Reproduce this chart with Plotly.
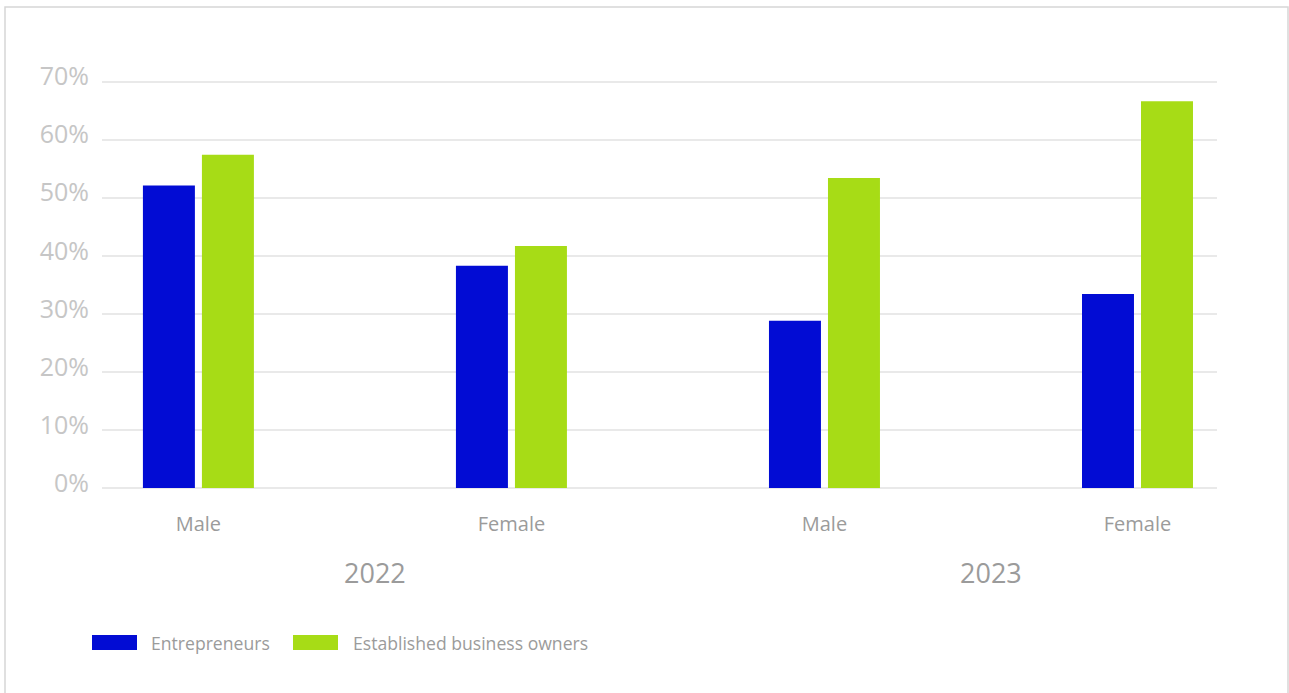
import plotly.graph_objects as go

# ---- data -------------------------------------------------------------
categories = ["Male", "Female", "Male ", "Female "]
years = ["2022", "2023"]
entrepreneurs = [52.1, 38.3, 28.8, 33.4]
established = [57.4, 41.7, 53.4, 66.6]
series_names = ["Entrepreneurs", "Established business owners"]
y_ticks = [0, 10, 20, 30, 40, 50, 60, 70]
y_tick_labels = [f"{v}%" for v in y_ticks]

# ---- styling ----------------------------------------------------------
BLUE = "#020cd4"
GREEN = "#a7dc16"
GRID = "#e9e9e9"
FONT = "'Open Sans', 'Noto Sans', sans-serif"

W, H = 1289, 693
M_L, M_R, M_T, M_B = 102, 72, 70, 205
PLOT_W = W - M_L - M_R
PLOT_H = H - M_T - M_B


def px_x(px):
    """Page x pixel -> paper coordinate."""
    return (px - M_L) / PLOT_W


def px_y(py):
    """Page y pixel (from top) -> paper coordinate."""
    return (H - M_B - py) / PLOT_H


fig = go.Figure()
fig.add_bar(x=categories, y=entrepreneurs, name=series_names[0],
            marker=dict(color=BLUE, line=dict(width=0)), showlegend=False)
fig.add_bar(x=categories, y=established, name=series_names[1],
            marker=dict(color=GREEN, line=dict(width=0)), showlegend=False)

# outer frame of the card
shapes = [dict(type="rect", xref="paper", yref="paper",
               x0=px_x(5), x1=px_x(1288), y0=px_y(720), y1=px_y(7),
               line=dict(color="#d6d6d6", width=1.5), fillcolor="rgba(0,0,0,0)",
               layer="below")]

annotations = []
# year labels under each pair of categories
for i, (yr, shift) in enumerate(zip(years, [20, 10])):
    annotations.append(dict(text=yr, xref="x", yref="paper",
                            x=0.5 + 2 * i, y=px_y(572), xshift=shift,
                            showarrow=False, yanchor="middle", xanchor="center",
                            font=dict(family=FONT, size=27, color="#9b9b9b")))

# custom legend with wide swatches
legend_items = [(series_names[0], BLUE, 92, 137, 149),
                (series_names[1], GREEN, 293, 338, 351)]
for name, col, x0, x1, tx in legend_items:
    shapes.append(dict(type="rect", xref="paper", yref="paper",
                       x0=px_x(x0), x1=px_x(x1), y0=px_y(650), y1=px_y(635),
                       fillcolor=col, line=dict(width=0)))
    annotations.append(dict(text=name, xref="paper", yref="paper",
                            x=px_x(tx), y=px_y(642.5), showarrow=False,
                            xanchor="left", yanchor="middle",
                            font=dict(family=FONT, size=17.6, color="#9b9b9b")))

fig.update_layout(
    width=W, height=H,
    margin=dict(l=M_L, r=M_R, t=M_T, b=M_B),
    paper_bgcolor="white", plot_bgcolor="white",
    barmode="group", bargap=0.623, bargroupgap=0.119,
    font=dict(family=FONT),
    shapes=shapes, annotations=annotations,
    xaxis=dict(type="category", range=[-0.308, 3.254],
               showgrid=False, zeroline=False, showline=False,
               ticks="", ticklabelstandoff=22,
               tickfont=dict(family=FONT, size=20, color="#9b9b9b"),
               tickvals=categories, ticktext=[c.strip() for c in categories]),
    yaxis=dict(range=[0, 72], tickvals=y_ticks, ticktext=y_tick_labels,
               showgrid=True, gridcolor=GRID, gridwidth=2,
               zeroline=True, zerolinecolor=GRID, zerolinewidth=2,
               showline=False, ticks="", ticklabelstandoff=12,
               ticklabelshift=-5,
               tickfont=dict(family=FONT, size=25, color="#c6c6c6")),
)

fig.write_html("out.html")
